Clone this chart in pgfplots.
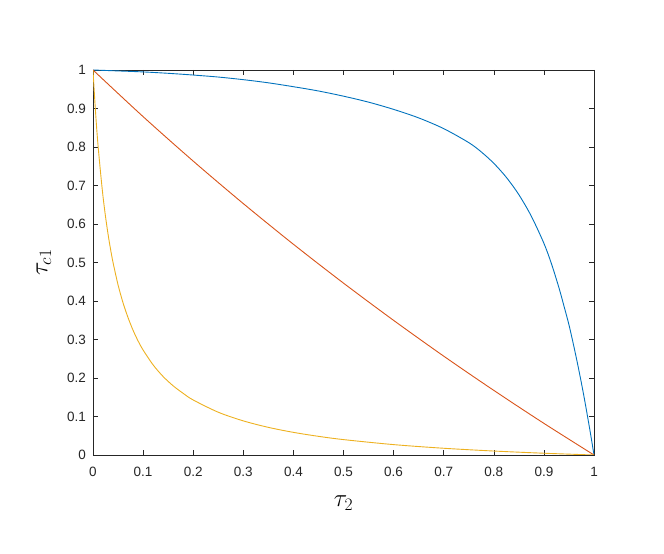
\documentclass[border=0pt]{standalone}
\usepackage{fix-cm}
\usepackage{fontspec}
\setmainfont{Liberation Sans}
\usepackage{pgfplots}
\pgfplotsset{compat=1.18}
\definecolor{mblue}{rgb}{0,0.447,0.741}
\definecolor{mred}{rgb}{0.85,0.325,0.098}
\definecolor{myellow}{rgb}{0.929,0.694,0.125}
\definecolor{axgray}{rgb}{0.15,0.15,0.15}
\begin{document}
\begin{tikzpicture}
\useasboundingbox (0,0) rectangle (664pt,554pt);
\begin{axis}[
  at={(93pt,99pt)}, anchor=south west,
  scale only axis, width=501pt, height=385pt,
  xmin=0, xmax=1, ymin=0, ymax=1,
  xtick={0,0.1,...,1}, ytick={0,0.1,...,1},
  xticklabels={0,0.1,0.2,0.3,0.4,0.5,0.6,0.7,0.8,0.9,1},
  yticklabels={0,0.1,0.2,0.3,0.4,0.5,0.6,0.7,0.8,0.9,1},
  tick align=inside, major tick length=5pt,
  axis line style={axgray, line width=0.6pt},
  every tick/.style={axgray, line width=0.6pt},
  tick label style={font=\fontsize{13.5}{16}\selectfont, text=axgray},
  /pgf/number format/assume math mode=true,
  xticklabel style={yshift=-9pt},
  yticklabel style={xshift=-3.5pt},
  xlabel={\fontsize{25}{30}\selectfont$\tau_2$},
  ylabel={\fontsize{25}{30}\selectfont$\tau_{c1}$},
  xlabel style={at={(axis description cs:0.5,-0.1247)}, anchor=center},
  ylabel style={at={(axis description cs:-0.098,0.5)}, anchor=center},
]
\addplot[mblue, line width=0.9pt, smooth] coordinates {
(0,1) (0.05,0.9976) (0.1,0.9950) (0.15,0.9914) (0.2,0.9869) (0.25,0.9817) (0.3,0.9749)
(0.35,0.9667) (0.4,0.9566) (0.45,0.9455) (0.5,0.9320) (0.55,0.9165) (0.6,0.8977)
(0.65,0.8756) (0.7,0.8477) (0.75,0.8114) (0.775,0.7872) (0.8,0.7576) (0.825,0.7212)
(0.85,0.6762) (0.875,0.6200) (0.9,0.5498) (0.915,0.4970) (0.93,0.4345) (0.94,0.3872)
(0.95,0.3382) (0.96,0.2808) (0.97,0.2190) (0.98,0.1518) (0.99,0.0785) (0.995,0.0399) (1,0)
};
\addplot[mred, line width=0.9pt, smooth] coordinates {
(0,1) (0.1,0.8789) (0.2,0.7634) (0.3,0.6530) (0.4,0.5474) (0.5,0.4464) (0.6,0.3497)
(0.7,0.2568) (0.8,0.1678) (0.9,0.0822) (1,0)
};
\addplot[myellow, line width=0.9pt, smooth] coordinates {
(0,1) (0.0025,0.9437) (0.005,0.8924) (0.0075,0.8460) (0.01,0.8049) (0.015,0.7345) (0.02,0.6712)
(0.025,0.6190) (0.03,0.5740) (0.035,0.5347) (0.04,0.5) (0.05,0.4419) (0.06,0.3950) (0.07,0.3566)
(0.08,0.3239) (0.09,0.2962) (0.1,0.2727) (0.12,0.2340) (0.14,0.2038) (0.16,0.1797) (0.18,0.1601)
(0.2,0.1429) (0.25,0.1111) (0.3,0.0886) (0.35,0.0718) (0.4,0.0588) (0.45,0.0485) (0.5,0.04)
(0.6,0.0270) (0.7,0.0175) (0.8,0.0103) (0.9,0.0046) (1,0)
};
\end{axis}
\end{tikzpicture}
\end{document}
